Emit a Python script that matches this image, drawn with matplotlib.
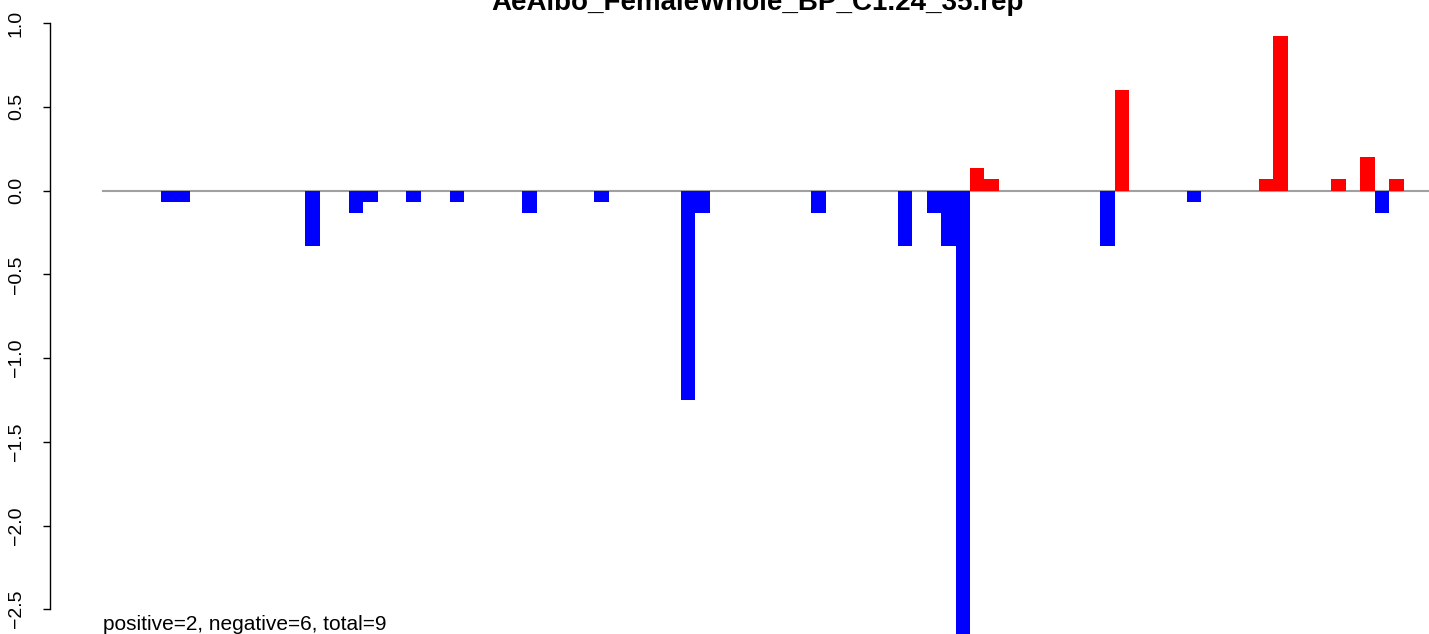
import numpy as np
import matplotlib
matplotlib.use("Agg")
import matplotlib.pyplot as plt

plt.rcParams['font.family'] = ['Liberation Sans', 'DejaVu Sans']

# bar slots run 0..91, only the non-zero ones are listed
n_bars = 92
bar_pos = [4, 5, 14, 17, 18, 21, 24, 29, 34, 40, 41, 49, 55, 57, 58, 59,
           60, 61, 69, 70, 75, 80, 81, 85, 87, 88, 89]
bar_val = [-0.067, -0.067, -0.333, -0.133, -0.067, -0.067, -0.067, -0.133,
           -0.067, -1.25, -0.133, -0.133, -0.333, -0.133, -0.333, -2.75,
           0.133, 0.067, -0.333, 0.6, -0.067, 0.067, 0.92, 0.067, 0.2,
           -0.133, 0.067]
title = "AeAlbo_FemaleWhole_BP_C1.24_35.rep"
summary = "positive=2, negative=6, total=9"

values = np.zeros(n_bars)
values[bar_pos] = bar_val
colors = ['red' if v > 0 else 'blue' for v in values]

W, H = 1429, 634
fig = plt.figure(figsize=(W / 100, H / 100), dpi=100)
ax = fig.add_axes([50 / W, 0, 1 - 50 / W, 1])

# zero line under the bars
ax.plot([0, n_bars], [0, 0], color='#a0a0a0', lw=1.5, zorder=1)
ax.bar(np.arange(n_bars), values, width=1.0, align='edge', color=colors,
       linewidth=0, zorder=2)

bar_px = 14.45
ax.set_xlim(-53 / bar_px, (W - 103) / bar_px)
y0, unit = 190.5, 167.5
ax.set_ylim((y0 - H) / unit, y0 / unit)

for s in ['top', 'right', 'bottom']:
    ax.spines[s].set_visible(False)
ax.spines['left'].set_bounds(-2.5, 1.0)
ax.spines['left'].set_linewidth(1.0)
ax.set_xticks([])
yt = np.arange(-2.5, 1.01, 0.5)
ax.set_yticks(yt)
ax.set_yticklabels([f"{t:.1f}".replace('-', '\u2212') for t in yt],
                   rotation=90, va='center', fontsize=14)
ax.tick_params(axis='y', length=5, width=1.0, pad=13)

fig.text(757 / W, 1 - 10 / H, title, ha='center', va='baseline',
         fontsize=20, fontweight='bold')
fig.text(103 / W, 1 - 625 / H, summary, ha='left', va='center', fontsize=15)

fig.savefig('out.png', dpi=100)
